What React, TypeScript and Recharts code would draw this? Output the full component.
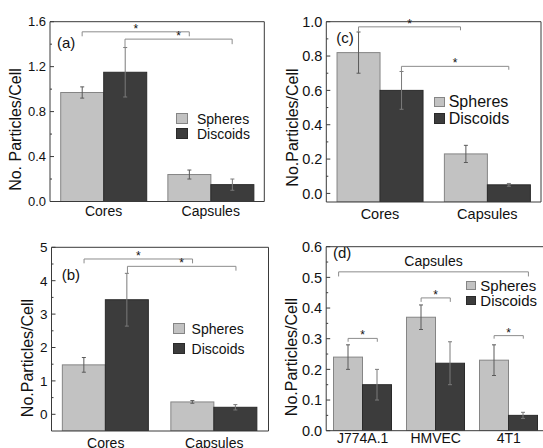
import { BarChart, Bar, XAxis, YAxis, ErrorBar, ReferenceLine, Legend } from 'recharts';

// Uptake of spheres vs discoids, four panels (a)-(d).
const FONT = '"Liberation Sans", Arial, sans-serif';
const SPHERE_FILL = '#c2c2c2';
const SPHERE_EDGE = '#858585';
const DISCOID_FILL = '#3c3c3c';
const DISCOID_EDGE = '#2a2a2a';
const AXIS = '#3a3a3a';
const BRACKET = '#8c8c8c';
const SERIES_ORDER = ['Spheres', 'Discoids'];

// (a)
const categoriesA = ['Cores', 'Capsules'];
const spheresA = [0.97, 0.24];
const spheresErrA = [0.05, 0.04];
const discoidsA = [1.15, 0.15];
const discoidsErrA = [0.22, 0.05];
const ticksA = [0, 0.2, 0.4, 0.6, 0.8, 1.0, 1.2, 1.4, 1.6];
const majorA = [0, 0.4, 0.8, 1.2, 1.6];

// (b)
const categoriesB = ['Cores', 'Capsules'];
const spheresB = [1.48, 0.37];
const spheresErrB = [0.22, 0.04];
const discoidsB = [3.43, 0.21];
const discoidsErrB = [0.79, 0.08];
const ticksB = [0, 0.5, 1, 1.5, 2, 2.5, 3, 3.5, 4, 4.5, 5];
const majorB = [0, 1, 2, 3, 4, 5];

// (c)
const categoriesC = ['Cores', 'Capsules'];
const spheresC = [0.82, 0.23];
const spheresErrC = [0.12, 0.05];
const discoidsC = [0.6, 0.05];
const discoidsErrC = [0.11, 0.008];
const ticksC = [0, 0.1, 0.2, 0.3, 0.4, 0.5, 0.6, 0.7, 0.8, 0.9, 1.0];
const majorC = [0, 0.2, 0.4, 0.6, 0.8, 1.0];

// (d)
const categoriesD = ['J774A.1', 'HMVEC', '4T1'];
const spheresD = [0.24, 0.37, 0.23];
const spheresErrD = [0.04, 0.04, 0.05];
const discoidsD = [0.15, 0.22, 0.05];
const discoidsErrD = [0.05, 0.07, 0.01];
const ticksD = [0, 0.05, 0.1, 0.15, 0.2, 0.25, 0.3, 0.35, 0.4, 0.45, 0.5, 0.55, 0.6];
const majorD = [0, 0.1, 0.2, 0.3, 0.4, 0.5, 0.6];

// significance brackets, x in category units (category i centred at i + 1)
type Bracket = { x1: number; x2: number; y: number; y1: number; y2: number; text: string };
const bracketsA: Bracket[] = [
  { x1: 0.8, x2: 1.8, y: 1.51, y1: 1.47, y2: 1.47, text: '*' },
  { x1: 1.2, x2: 2.2, y: 1.445, y1: 1.37, y2: 1.4, text: '*' },
];
const bracketsB: Bracket[] = [
  { x1: 0.8, x2: 1.8, y: 4.65, y1: 4.52, y2: 4.52, text: '*' },
  { x1: 1.2, x2: 2.2, y: 4.43, y1: 4.22, y2: 4.3, text: '*' },
];
const bracketsC: Bracket[] = [
  { x1: 0.8, x2: 1.75, y: 0.97, y1: 0.94, y2: 0.95, text: '*' },
  { x1: 1.2, x2: 2.2, y: 0.74, y1: 0.71, y2: 0.72, text: '*' },
];
const bracketsD: Bracket[] = [
  { x1: 0.67, x2: 3.27, y: 0.518, y1: 0.503, y2: 0.503, text: 'Capsules' },
  { x1: 0.8, x2: 1.2, y: 0.301, y1: 0.29, y2: 0.29, text: '*' },
  { x1: 1.8, x2: 2.2, y: 0.433, y1: 0.42, y2: 0.42, text: '*' },
  { x1: 2.8, x2: 3.2, y: 0.31, y1: 0.3, y2: 0.3, text: '*' },
];

function buildRows(cats: string[], s: number[], se: number[], d: number[], de: number[]) {
  return cats.map((name, i) => ({ name, pos: i + 1, spheres: s[i], spheresErr: se[i], discoids: d[i], discoidsErr: de[i] }));
}

// bars in (b)/(c) start at the bottom of the frame, as in Origin
function FloorBar(props: any) {
  const { x, y, width, height, fill, stroke, background } = props;
  const bottom = background ? background.y + background.height : y + height;
  return <rect x={x} y={y} width={width} height={Math.max(0, bottom - y)} fill={fill} stroke={stroke} strokeWidth={1} />;
}

const makeYTick = (major: number[], digits: number, fontSize: number) => (props: any) => {
  const { x, y, payload } = props;
  const v = payload.value as number;
  const isMajor = major.some((m) => Math.abs(m - v) < 1e-9);
  return (
    <g>
      <line x1={x} x2={x + (isMajor ? 4 : 2)} y1={y} y2={y} stroke={AXIS} />
      {isMajor && (
        <text x={x - 4} y={y} dy="0.36em" textAnchor="end" fontSize={fontSize} fill="#111">
          {v.toFixed(digits)}
        </text>
      )}
    </g>
  );
};

interface LegendSpec {
  left: number;
  top: number;
  rowH: number;
  boxW: number;
  boxH: number;
  gap: number;
  fontSize: number;
}

function LegendBox({ spec, payload }: { spec: LegendSpec; payload?: any[] }) {
  const items = [...(payload || [])].sort((a, b) => SERIES_ORDER.indexOf(a.value) - SERIES_ORDER.indexOf(b.value));
  return (
    <div style={{ fontFamily: FONT }}>
      {items.map((e: any) => (
        <div key={e.value} style={{ display: 'flex', alignItems: 'center', height: spec.rowH }}>
          <span
            style={{
              display: 'inline-block',
              width: spec.boxW,
              height: spec.boxH,
              boxSizing: 'border-box',
              background: e.color,
              border: `1px solid ${e.value === 'Spheres' ? SPHERE_EDGE : DISCOID_EDGE}`,
              marginRight: spec.gap,
            }}
          />
          <span style={{ fontSize: spec.fontSize, color: '#111', lineHeight: 1 }}>{e.value}</span>
        </div>
      ))}
    </div>
  );
}

interface PanelProps {
  left: number;
  top: number;
  width: number;
  height: number;
  // plot frame edges, relative to the panel
  frame: { top: number; right: number; bottom: number; left: number };
  rows: any[];
  yDomain: [number, number];
  ticks: number[];
  major: number[];
  digits: number;
  tickFont: number;
  xFont: number;
  xMargin: number;
  brackets: Bracket[];
  legend: LegendSpec;
}

function Panel(p: PanelProps) {
  const numDomain: [number, number] = [0.5, p.rows.length + 0.5];
  // every axis is 1px thick, so the margins are the frame minus 1
  const margin = {
    top: p.frame.top - 1,
    left: p.frame.left - 1,
    bottom: p.height - p.frame.bottom - 1,
    right: p.width - p.frame.right - 1,
  };
  return (
    <div style={{ position: 'absolute', left: p.left, top: p.top }}>
      <BarChart width={p.width} height={p.height} data={p.rows} margin={margin} barGap={0} barCategoryGap="10%">
        <XAxis
          dataKey="name"
          interval={0}
          tickLine={false}
          tickSize={0}
          tickMargin={p.xMargin}
          height={1}
          axisLine={{ stroke: AXIS }}
          tick={{ fontSize: p.xFont, fill: '#111' }}
        />
        <XAxis
          xAxisId="num"
          dataKey="pos"
          type="number"
          orientation="top"
          domain={numDomain}
          allowDataOverflow
          tick={false}
          tickLine={false}
          height={1}
          axisLine={{ stroke: AXIS }}
        />
        <YAxis
          domain={p.yDomain}
          allowDataOverflow
          ticks={p.ticks}
          interval={0}
          tickLine={false}
          tickSize={0}
          tickMargin={0}
          width={1}
          axisLine={{ stroke: AXIS }}
          tick={makeYTick(p.major, p.digits, p.tickFont)}
        />
        <YAxis
          yAxisId="r"
          orientation="right"
          domain={p.yDomain}
          allowDataOverflow
          tick={false}
          tickLine={false}
          width={1}
          axisLine={{ stroke: AXIS }}
        />
        <Legend
          layout="vertical"
          align="center"
          verticalAlign="middle"
          wrapperStyle={{ left: p.legend.left, top: p.legend.top, width: 'auto', height: 'auto' }}
          content={(props: any) => <LegendBox spec={p.legend} payload={props.payload} />}
        />
        <Bar dataKey="spheres" name="Spheres" fill={SPHERE_FILL} stroke={SPHERE_EDGE} shape={<FloorBar />} isAnimationActive={false}>
          <ErrorBar dataKey="spheresErr" width={2} stroke="#5a5a5a" strokeWidth={1} />
        </Bar>
        <Bar dataKey="discoids" name="Discoids" fill={DISCOID_FILL} stroke={DISCOID_EDGE} shape={<FloorBar />} isAnimationActive={false}>
          <ErrorBar dataKey="discoidsErr" width={2} stroke="#7a7a7a" strokeWidth={1} />
        </Bar>
        {p.brackets.map((b, i) => {
          const star = b.text === '*';
          return [
            <ReferenceLine
              key={`h${i}`}
              xAxisId="num"
              ifOverflow="visible"
              segment={[{ x: b.x1, y: b.y }, { x: b.x2, y: b.y }]}
              stroke={BRACKET}
              label={{ value: b.text, position: 'top', offset: star ? -1 : 6, fontSize: star ? 12 : 14, fill: '#111' }}
            />,
            <ReferenceLine key={`l${i}`} xAxisId="num" ifOverflow="visible" segment={[{ x: b.x1, y: b.y }, { x: b.x1, y: b.y1 }]} stroke={BRACKET} />,
            <ReferenceLine key={`r${i}`} xAxisId="num" ifOverflow="visible" segment={[{ x: b.x2, y: b.y }, { x: b.x2, y: b.y2 }]} stroke={BRACKET} />,
          ];
        })}
      </BarChart>
    </div>
  );
}

export default function App() {
  return (
    <div style={{ position: 'absolute', left: 0, top: 0, width: 543, height: 448, overflow: 'hidden', background: '#fff', fontFamily: FONT }}>
      <Panel
        left={0}
        top={0}
        width={272}
        height={224}
        frame={{ top: 21.7, right: 264.3, bottom: 201.5, left: 50 }}
        rows={buildRows(categoriesA, spheresA, spheresErrA, discoidsA, discoidsErrA)}
        yDomain={[0, 1.6]}
        ticks={ticksA}
        major={majorA}
        digits={1}
        tickFont={13}
        xFont={14}
        xMargin={5}
        brackets={bracketsA}
        legend={{ left: 176, top: 111.3, rowH: 15, boxW: 12, boxH: 11, gap: 9, fontSize: 14 }}
      />
      <Panel
        left={272}
        top={0}
        width={271}
        height={224}
        frame={{ top: 21.7, right: 269, bottom: 202, left: 54.3 }}
        rows={buildRows(categoriesC, spheresC, spheresErrC, discoidsC, discoidsErrC)}
        yDomain={[-0.05, 1.0]}
        ticks={ticksC}
        major={majorC}
        digits={1}
        tickFont={14.5}
        xFont={14.5}
        xMargin={7}
        brackets={bracketsC}
        legend={{ left: 162.3, top: 93.7, rowH: 16.7, boxW: 11, boxH: 10.6, gap: 3.4, fontSize: 16 }}
      />
      <Panel
        left={0}
        top={224}
        width={272}
        height={224}
        frame={{ top: 23.3, right: 268.5, bottom: 207, left: 51.5 }}
        rows={buildRows(categoriesB, spheresB, spheresErrB, discoidsB, discoidsErrB)}
        yDomain={[-0.5, 5]}
        ticks={ticksB}
        major={majorB}
        digits={0}
        tickFont={13.5}
        xFont={14}
        xMargin={7}
        brackets={bracketsB}
        legend={{ left: 172.7, top: 94.7, rowH: 20, boxW: 12.5, boxH: 10.7, gap: 6.4, fontSize: 14 }}
      />
      <Panel
        left={272}
        top={224}
        width={276}
        height={224}
        frame={{ top: 22.7, right: 273.2, bottom: 206.7, left: 54.2 }}
        rows={buildRows(categoriesD, spheresD, spheresErrD, discoidsD, discoidsErrD)}
        yDomain={[0, 0.6]}
        ticks={ticksD}
        major={majorD}
        digits={1}
        tickFont={14.5}
        xFont={14}
        xMargin={2}
        brackets={bracketsD}
        legend={{ left: 194.3, top: 53.9, rowH: 15, boxW: 10, boxH: 9.3, gap: 4, fontSize: 15 }}
      />
      <svg width={543} height={448} style={{ position: 'absolute', left: 0, top: 0, pointerEvents: 'none' }}>
        <g fill="#111" fontSize={15}>
          <text x={57} y={48}>(a)</text>
          <text x={336.3} y={43.3}>(c)</text>
          <text x={61.7} y={280}>(b)</text>
          <text x={333} y={258.3}>(d)</text>
        </g>
        <g fill="#111" fontSize={16} textAnchor="middle" dominantBaseline="central">
          <text transform="translate(15,129.5) rotate(-90)">No. Particles/Cell</text>
          <text transform="translate(292,127.5) rotate(-90)">No.Particles/Cell</text>
          <text transform="translate(27.5,358) rotate(-90)">No.Particles/Cell</text>
          <text transform="translate(291,357) rotate(-90)">No.Particles/Cell</text>
        </g>
      </svg>
    </div>
  );
}
